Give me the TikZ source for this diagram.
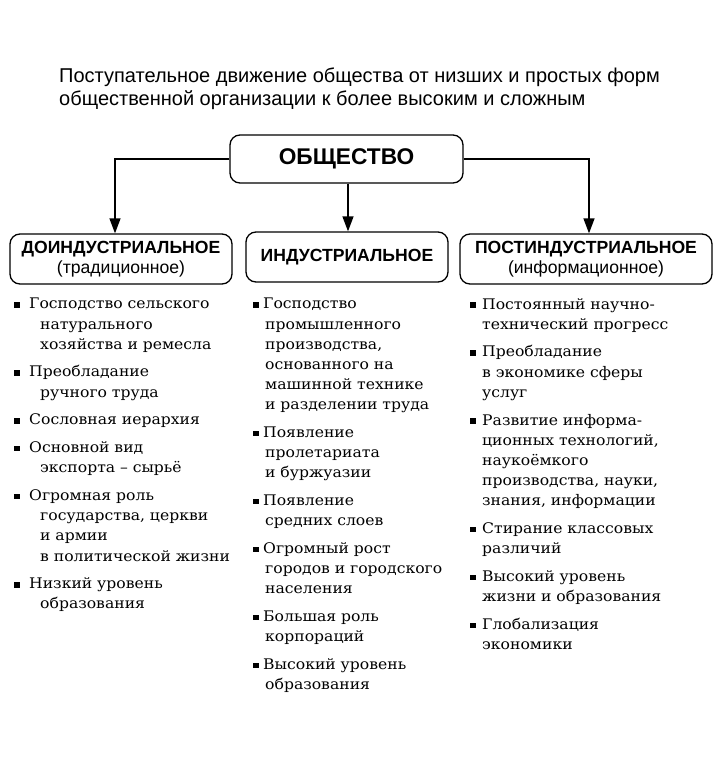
\documentclass[tikz,border=0pt]{standalone}
\usepackage{fontspec}
\setmainfont{DejaVu Serif}
\newfontfamily\bodyfont[FakeStretch=1.07]{DejaVu Serif}
\newfontfamily\headfont{Liberation Sans}
\usetikzlibrary{arrows.meta}
\newlength\fgap \newlength\cind
\newcommand\itm[1]{\hangindent=\cind\hangafter=1\noindent\makebox[\fgap][l]{\raisebox{1.2pt}{\rule{5.5pt}{5.5pt}}}#1\par}
\tikzset{
  box/.style={draw, line width=1.3pt, rounded corners=10pt, inner sep=0pt},
  conn/.style={line width=1.3pt, -{Triangle[length=15pt,width=11pt]}},
  col/.style={anchor=north west, inner sep=0pt, text width=230pt,
    font=\bodyfont\fontsize{14.6}{20.2}\selectfont},
}
\begin{document}
\begin{tikzpicture}[x=1pt,y=-1pt]
\useasboundingbox (0,0) rectangle (719,774);
\node[anchor=north west, inner sep=0pt, align=left, font=\headfont\fontsize{20}{23}\selectfont] (title) at (59,68)
  {Поступательное движение общества от низших и простых форм\\общественной организации к более высоким и сложным};
\node[box, minimum width=233pt, minimum height=48pt, font=\headfont\bfseries\fontsize{22.7}{24}\selectfont] (soc) at (346.5,159) {ОБЩЕСТВО};
\node[box, minimum width=222pt, minimum height=50pt, align=center, font=\headfont\fontsize{17.6}{20}\selectfont] (pre) at (121,259)
  {\textbf{ДОИНДУСТРИАЛЬНОЕ}\\(традиционное)};
\node[box, minimum width=202pt, minimum height=50pt, font=\headfont\bfseries\fontsize{17.6}{20}\selectfont] (ind) at (347,257) {ИНДУСТРИАЛЬНОЕ};
\node[box, minimum width=252pt, minimum height=50pt, align=center, font=\headfont\fontsize{17.6}{20}\selectfont] (post) at (586,259)
  {\textbf{ПОСТИНДУСТРИАЛЬНОЕ}\\(информационное)};
\draw[conn] (soc.west) -| (pre.north -| 115,0);
\draw[conn] (soc.south -| 348,0) -- (ind.north -| 348,0);
\draw[conn] (soc.east) -| (post.north -| 589,0);
\node[col] (c1) at (14,298) {\setlength\fgap{15pt}\setlength\cind{26pt}\setlength\parskip{7.5pt}%
\itm{Господство сельского\newline натурального\newline хозяйства и ремесла}
\itm{Преобладание\newline ручного труда}
\itm{Сословная иерархия}
\itm{Основной вид\newline экспорта – сырьё}
\itm{Огромная роль\newline государства, церкви\newline и армии\newline в политической жизни}
\itm{Низкий уровень\newline образования}};
\node[col] (c2) at (253,298) {\setlength\fgap{10pt}\setlength\cind{12pt}\setlength\parskip{7.5pt}%
\itm{Господство\newline промышленного\newline производства,\newline основанного на\newline машинной технике\newline и разделении труда}
\itm{Появление\newline пролетариата\newline и буржуазии}
\itm{Появление\newline средних слоев}
\itm{Огромный рост\newline городов и городского\newline населения}
\itm{Большая роль\newline корпораций}
\itm{Высокий уровень\newline образования}};
\node[col] (c3) at (470,298) {\setlength\fgap{12pt}\setlength\cind{12pt}\setlength\parskip{7.5pt}%
\itm{Постоянный научно-\newline технический прогресс}
\itm{Преобладание\newline в экономике сферы\newline услуг}
\itm{Развитие информа-\newline ционных технологий,\newline наукоёмкого\newline производства, науки,\newline знания, информации}
\itm{Стирание классовых\newline различий}
\itm{Высокий уровень\newline жизни и образования}
\itm{Глобализация\newline экономики}};
\end{tikzpicture}
\end{document}
